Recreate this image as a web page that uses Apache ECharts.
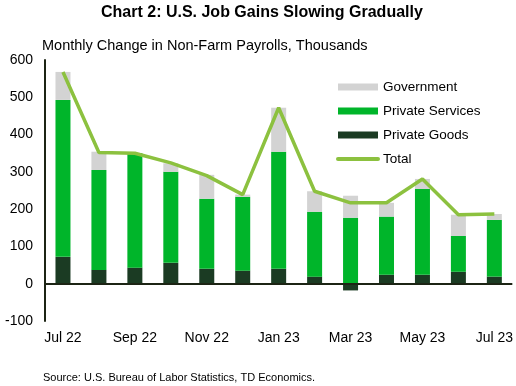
<!DOCTYPE html>
<html><head><meta charset="utf-8">
<script src="https://cdn.jsdelivr.net/npm/echarts@6/dist/echarts.min.js"></script>
<style>html,body{margin:0;padding:0;background:#fff}#c{width:516px;height:386px}</style>
</head><body><div id="c"></div>
<script>
var categories = ["Jul 22","Aug 22","Sep 22","Oct 22","Nov 22","Dec 22","Jan 23","Feb 23","Mar 23","Apr 23","May 23","Jun 23","Jul 23"];
var privateGoods = [72,37,43,56,40,35,40,19,-18,24,24,32,19];
var privateServices = [421,268,307,244,188,198,314,174,177,156,230,96,152];
var government = [75,49,0,23,64,6,118,55,59,37,27,57,16];
var total = [568,352,350,324,290,239,472,248,217,217,281,185,187];
var yTicks = [-100,0,100,200,300,400,500,600];

var FONT = '"Liberation Sans", Arial, sans-serif';
var chart = echarts.init(document.getElementById('c'), null, {renderer:'canvas'});
chart.setOption({
  animation:false,
  textStyle:{fontFamily:FONT},
  title:[
    {text:'Chart 2: U.S. Job Gains Slowing Gradually', left:96, top:0,
     textStyle:{fontFamily:FONT, fontSize:16, fontWeight:'bold', color:'#000'}},
    {text:'Monthly Change in Non-Farm Payrolls, Thousands', left:37, top:33,
     textStyle:{fontFamily:FONT, fontSize:14.5, fontWeight:'normal', color:'#000'}},
    {text:'Source: U.S. Bureau of Labor Statistics, TD Economics.', left:38, top:367,
     textStyle:{fontFamily:FONT, fontSize:11, fontWeight:'normal', color:'#000'}}
  ],
  legend:{
    orient:'vertical', left:331, top:75, itemWidth:40, itemHeight:7, itemGap:10,
    textStyle:{fontFamily:FONT, fontSize:13.5, color:'#000'},
    data:[
      {name:'Government', icon:'rect'},
      {name:'Private Services', icon:'rect'},
      {name:'Private Goods', icon:'rect'},
      {name:'Total', itemStyle:{opacity:0}, lineStyle:{width:4, cap:'round'}}
    ]
  },
  grid:{left:45, right:3, top:60, bottom:65},
  xAxis:{
    type:'category', data:categories,
    axisLine:{show:false}, axisTick:{show:false},
    axisLabel:{interval:1, color:'#000', fontSize:14, fontFamily:FONT, margin:10}
  },
  yAxis:{
    type:'value', min:yTicks[0], max:yTicks[yTicks.length-1], interval:100,
    splitLine:{show:false},
    axisLine:{show:true, lineStyle:{color:'#1c2414', width:2}},
    axisTick:{show:false},
    axisLabel:{color:'#000', fontSize:14, fontFamily:FONT, margin:12}
  },
  series:[
    {name:'Private Goods', type:'bar', stack:'a', data:privateGoods, barWidth:15,
     itemStyle:{color:'#1b3b23'},
     markLine:{silent:true, symbol:'none', label:{show:false},
       lineStyle:{color:'#1c2414', width:2, type:'solid'}, data:[{yAxis:0}]}},
    {name:'Private Services', type:'bar', stack:'a', data:privateServices, barWidth:15,
     itemStyle:{color:'#00b52a'}},
    {name:'Government', type:'bar', stack:'a', data:government, barWidth:15,
     itemStyle:{color:'#d3d3d3'}},
    {name:'Total', type:'line', data:total, symbol:'none', z:5,
     lineStyle:{color:'#8cc13f', width:3.5}, itemStyle:{color:'#8cc13f'}}
  ]
});
</script></body></html>
